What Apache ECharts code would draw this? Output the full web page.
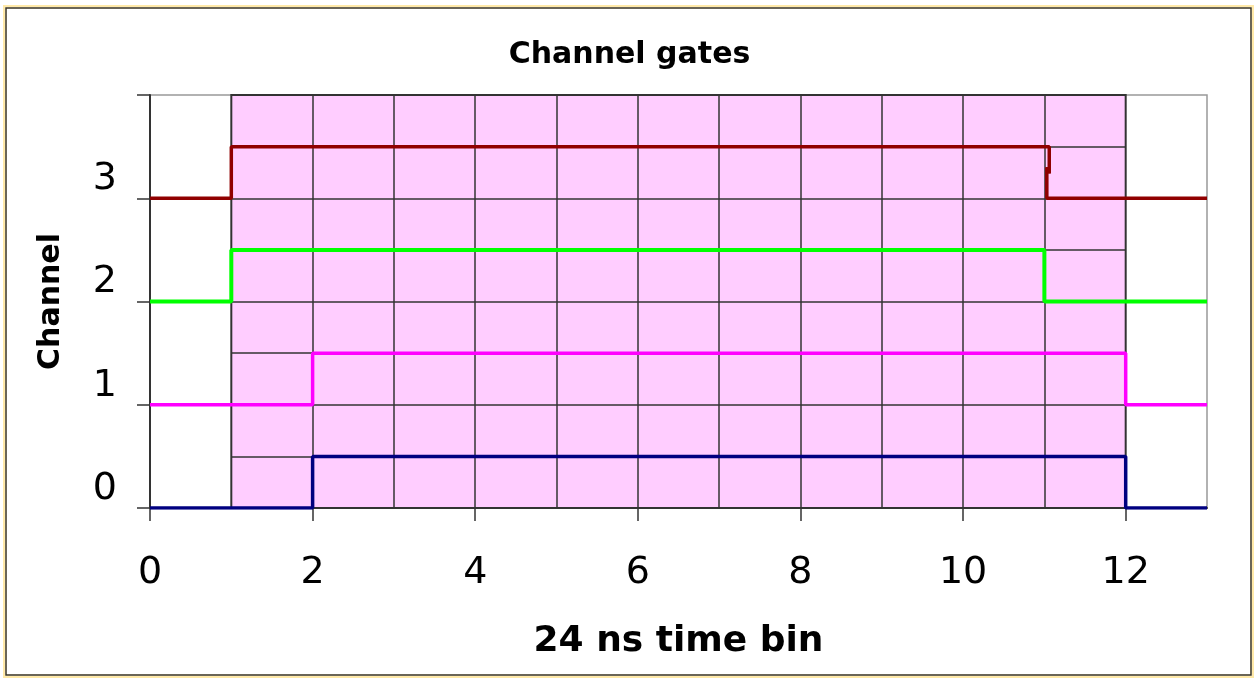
<!DOCTYPE html>
<html>
<head>
<meta charset="utf-8">
<title>Channel gates</title>
<script src="https://cdn.jsdelivr.net/npm/echarts@6/dist/echarts.min.js"></script>
<style>
  html, body { margin: 0; padding: 0; background: #fff; }
  #chart { width: 1259px; height: 681px; }
</style>
</head>
<body>
<div id="chart"></div>
<script>
// data
const xTicks = [0, 2, 4, 6, 8, 10, 12];
const yTicks = [0, 1, 2, 3, 4];
const yLabels = [0, 1, 2, 3];

// gate window (pink box) and its inner grid
const gateX = [1, 12];
const gateY = [0, 4];
const gateGridX = [2, 3, 4, 5, 6, 7, 8, 9, 10, 11];
const gateGridY = [0.5, 1, 1.5, 2, 2.5, 3, 3.5];

// channel traces, [time bin, level]
const ch3 = [[0, 3], [1, 3], [1, 3.5], [11.06, 3.5], [11.06, 3.24], [11.03, 3.3], [11.03, 3], [13, 3]];
const ch2 = [[0, 2], [1, 2.5], [11, 2], [13, 2]];
const ch1 = [[0, 1], [2, 1.5], [12, 1], [13, 1]];
const ch0 = [[0, 0], [2, 0.5], [12, 0], [13, 0]];

const chart = echarts.init(document.getElementById('chart'));

const gridLines = [];
gateGridX.forEach(x => {
    gridLines.push([{ coord: [x, gateY[0]] }, { coord: [x, gateY[1]] }]);
});
gateGridY.forEach(y => {
    gridLines.push([{ coord: [gateX[0], y] }, { coord: [gateX[1], y] }]);
});

const option = {
    animation: false,
    backgroundColor: '#fff',
    title: {
        text: 'Channel gates',
        left: 'center',
        top: 40,
        padding: 0,
        textStyle: { fontFamily: 'DejaVu Sans', fontWeight: 'bold', fontSize: 30, color: '#000' }
    },
    graphic: [
        { type: 'rect', silent: true, shape: { x: 4, y: 6, width: 1249, height: 671 },
          style: { fill: 'none', stroke: '#ffe9a8', lineWidth: 2 } },
        { type: 'rect', silent: true, shape: { x: 6, y: 8, width: 1245, height: 667 },
          style: { fill: 'none', stroke: '#3a3320', lineWidth: 1.5 } }
    ],
    grid: {
        left: 150,
        right: 52,
        top: 95,
        bottom: 173,
        show: true,
        backgroundColor: '#fff',
        borderColor: '#999',
        borderWidth: 1.5
    },
    xAxis: {
        type: 'value',
        min: 0,
        max: 13,
        interval: 2,
        name: '24 ns time bin',
        nameLocation: 'middle',
        nameGap: 116,
        nameTextStyle: { fontFamily: 'DejaVu Sans', fontWeight: 'bold', fontSize: 36, color: '#000' },
        axisLine: { lineStyle: { color: '#333', width: 2 } },
        axisTick: { length: 13, customValues: xTicks, lineStyle: { color: '#333', width: 1.5 } },
        axisLabel: {
            customValues: xTicks,
            margin: 46,
            fontFamily: 'DejaVu Sans',
            fontSize: 38,
            color: '#000'
        },
        splitLine: { show: false }
    },
    yAxis: {
        type: 'value',
        min: 0,
        max: 4,
        interval: 1,
        name: 'Channel',
        nameLocation: 'middle',
        nameRotate: 90,
        nameGap: 84,
        nameTextStyle: { fontFamily: 'DejaVu Sans', fontWeight: 'bold', fontSize: 30, color: '#000' },
        axisLine: { show: true, lineStyle: { color: '#333', width: 2 } },
        axisTick: { show: true, length: 13, customValues: yTicks, lineStyle: { color: '#333', width: 1.5 } },
        axisLabel: {
            customValues: yLabels,
            margin: 33,
            verticalAlign: 'bottom',
            fontFamily: 'DejaVu Sans',
            fontSize: 38,
            color: '#000'
        },
        splitLine: { show: false }
    },
    series: [
        {
            // pink gate window with its grid
            name: 'gate',
            type: 'line',
            data: [],
            z: 1,
            silent: true,
            markArea: {
                silent: true,
                z: 1,
                itemStyle: { color: '#ffcdff', borderColor: '#333', borderWidth: 2 },
                data: [[{ coord: [gateX[0], gateY[0]] }, { coord: [gateX[1], gateY[1]] }]]
            },
            markLine: {
                silent: true,
                z: 2,
                symbol: 'none',
                label: { show: false },
                lineStyle: { color: '#333', width: 1.5, type: 'solid' },
                data: gridLines
            }
        },
        {
            name: 'Channel 3',
            type: 'line',
            z: 10,
            data: ch3,
            symbol: 'none',
            lineStyle: { color: '#900000', width: 3.5 }
        },
        {
            name: 'Channel 2',
            type: 'line',
            z: 10,
            step: 'end',
            data: ch2,
            symbol: 'none',
            lineStyle: { color: '#00ff00', width: 4 }
        },
        {
            name: 'Channel 1',
            type: 'line',
            z: 10,
            step: 'end',
            data: ch1,
            symbol: 'none',
            lineStyle: { color: '#ff00ff', width: 3.5 }
        },
        {
            name: 'Channel 0',
            type: 'line',
            z: 10,
            step: 'end',
            data: ch0,
            symbol: 'none',
            lineStyle: { color: '#000080', width: 3.5 }
        }
    ]
};

chart.setOption(option);
</script>
</body>
</html>
